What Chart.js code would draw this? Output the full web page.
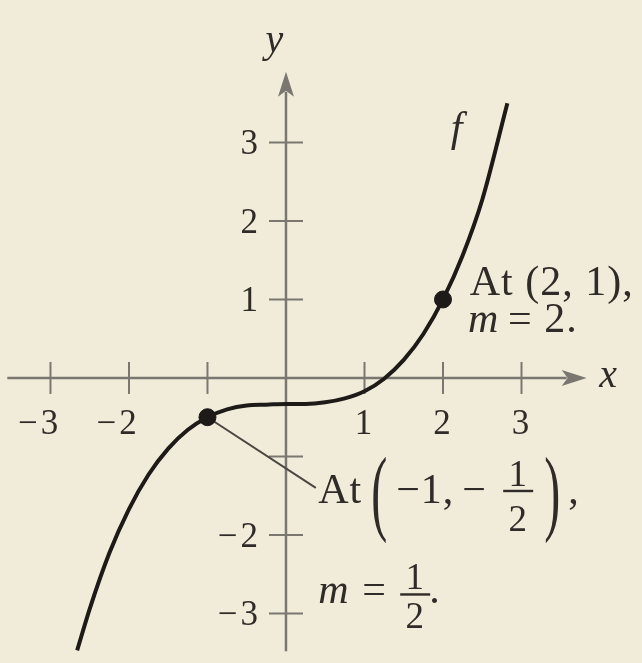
<!DOCTYPE html>
<html>
<head>
<meta charset="utf-8">
<script src="https://cdn.jsdelivr.net/npm/chart.js@4"></script>
<style>
  html, body { margin: 0; padding: 0; background: #f1ecda; }
  #wrap { width: 642px; height: 663px; }
</style>
</head>
<body>
<div id="wrap"><canvas id="graph" width="642" height="663"></canvas></div>
<script>
// curve f
const curveX = [-2.66, -2.5, -2.25, -2, -1.75, -1.5, -1.25, -1, -0.75, -0.5, -0.25, 0, 0.25, 0.5, 0.75, 1, 1.25, 1.5, 1.75, 2, 2.25, 2.5, 2.82];
const curveY = [-3.47, -2.94, -2.23, -1.67, -1.23, -0.9, -0.66, -0.5, -0.4, -0.35, -0.34, -0.33, -0.33, -0.31, -0.26, -0.17, -0.01, 0.23, 0.56, 1.0, 1.56, 2.27, 3.5];

// marked points
const markX = [-1, 2];
const markY = [-0.5, 1];

// ticks
const xTicks = [-3, -2, -1, 1, 2, 3];
const xTickLabels = ["−3", "−2", "", "1", "2", "3"];
const yTicks = [-3, -2, -1, 1, 2, 3];
const yTickLabels = ["−3", "−2", "", "1", "2", "3"];

const serif = '"Liberation Serif", "DejaVu Serif", serif';
const axisColor = "#7a7670";
const inkColor = "#2f2b28";

// draws "−3" style label: digit placed by align, minus in front of it
function tickLabel(ctx, s, x, y, align) {
    const digit = s.slice(-1);
    const dw = ctx.measureText(digit).width;
    const left = align === "center" ? x - dw / 2 : x - dw;
    ctx.textAlign = "left";
    ctx.fillText(digit, left, y);
    if (s.length > 1) {
        ctx.textAlign = "right";
        ctx.fillText("−", left - 3, y);
    }
}

const axesPlugin = {
    id: "axes",
    beforeDatasetsDraw(chart) {
        const ctx = chart.ctx;
        const sx = chart.scales.x, sy = chart.scales.y;
        const ox = sx.getPixelForValue(0), oy = sy.getPixelForValue(0);
        ctx.save();
        ctx.strokeStyle = axisColor;
        ctx.fillStyle = axisColor;
        ctx.lineWidth = 2.5;

        // x axis with arrow
        const xl = sx.getPixelForValue(-3.55), xr = sx.getPixelForValue(3.83);
        ctx.beginPath();
        ctx.moveTo(xl, oy);
        ctx.lineTo(xr - 20, oy);
        ctx.stroke();
        ctx.beginPath();
        ctx.moveTo(xr, oy);
        ctx.lineTo(xr - 25, oy - 8);
        ctx.lineTo(xr - 19, oy);
        ctx.lineTo(xr - 25, oy + 8);
        ctx.closePath();
        ctx.fill();

        // y axis with arrow
        const yb = sy.getPixelForValue(-3.48), yt = sy.getPixelForValue(3.9);
        ctx.beginPath();
        ctx.moveTo(ox, yb);
        ctx.lineTo(ox, yt + 20);
        ctx.stroke();
        ctx.beginPath();
        ctx.moveTo(ox, yt);
        ctx.lineTo(ox - 8, yt + 25);
        ctx.lineTo(ox, yt + 19);
        ctx.lineTo(ox + 8, yt + 25);
        ctx.closePath();
        ctx.fill();

        // ticks
        ctx.lineWidth = 2;
        xTicks.forEach(v => {
            const p = sx.getPixelForValue(v);
            ctx.beginPath();
            ctx.moveTo(p, oy - 16);
            ctx.lineTo(p, oy + 16);
            ctx.stroke();
        });
        yTicks.forEach(v => {
            const p = sy.getPixelForValue(v);
            ctx.beginPath();
            ctx.moveTo(ox - 17, p);
            ctx.lineTo(ox + 17, p);
            ctx.stroke();
        });

        // tick labels
        ctx.fillStyle = inkColor;
        ctx.font = "35px " + serif;
        ctx.textBaseline = "alphabetic";
        xTicks.forEach((v, i) => {
            if (xTickLabels[i]) tickLabel(ctx, xTickLabels[i], sx.getPixelForValue(v) - 1, oy + 56, "center");
        });
        yTicks.forEach((v, i) => {
            if (yTickLabels[i]) tickLabel(ctx, yTickLabels[i], ox - 28, sy.getPixelForValue(v) + 12, "right");
        });

        // leader line from (-1, -1/2) to its label
        ctx.strokeStyle = "#4a4641";
        ctx.lineWidth = 2;
        ctx.beginPath();
        ctx.moveTo(sx.getPixelForValue(markX[0]), sy.getPixelForValue(markY[0]));
        ctx.lineTo(sx.getPixelForValue(0.38), sy.getPixelForValue(-1.4));
        ctx.stroke();
        ctx.restore();
    }
};

function frac(ctx, cx, barY, num, den, gap) {
    ctx.save();
    ctx.font = "37px " + serif;
    ctx.textAlign = "center";
    ctx.fillText(num, cx, barY - 5);
    ctx.fillText(den, cx, barY + gap);
    ctx.fillRect(cx - 15, barY - 1, 30, 2.4);
    ctx.restore();
}

function bigParen(ctx, ch, x, baseY) {
    ctx.save();
    ctx.translate(x, baseY);
    ctx.scale(1, 2.0);
    ctx.font = "48px " + serif;
    ctx.textAlign = "left";
    ctx.fillText(ch, 0, 0);
    ctx.restore();
}

const labelPlugin = {
    id: "labels",
    afterDatasetsDraw(chart) {
        const ctx = chart.ctx;
        const sx = chart.scales.x, sy = chart.scales.y;
        const px = v => sx.getPixelForValue(v), py = v => sy.getPixelForValue(v);
        ctx.save();
        ctx.fillStyle = inkColor;
        ctx.textAlign = "left";
        ctx.textBaseline = "alphabetic";

        // axis names and curve name
        ctx.font = "italic 40px " + serif;
        ctx.fillText("x", px(3.99), py(-0.115));
        ctx.fillText("y", px(-0.26), py(4.15));
        ctx.font = "italic 42px " + serif;
        ctx.fillText("f", px(2.1), py(3.02));

        ctx.letterSpacing = "1px";
        // At (2, 1), m = 2.
        ctx.font = "42px " + serif;
        let x0 = px(2.34), b0 = py(1.057);
        ctx.fillText("At (2, 1),", x0, b0);
        x0 = px(2.32); b0 = py(0.586);
        ctx.font = "italic 42px " + serif;
        ctx.fillText("m", x0, b0);
        ctx.font = "42px " + serif;
        ctx.fillText("= 2.", x0 + 40, b0);

        // At (-1, -1/2), m = 1/2.
        x0 = px(0.41); b0 = py(-1.59);
        ctx.fillText("At", x0, b0);
        bigParen(ctx, "(", x0 + 53, b0 + 20);
        ctx.fillText("−1,", x0 + 78, b0);
        ctx.fillText("−", x0 + 144, b0);
        frac(ctx, x0 + 200, b0 - 12, "1", "2", 40);
        bigParen(ctx, ")", x0 + 226, b0 + 20);
        ctx.fillText(",", x0 + 250, b0);

        x0 = px(0.41); b0 = py(-2.87);
        ctx.font = "italic 42px " + serif;
        ctx.fillText("m", x0, b0);
        ctx.font = "42px " + serif;
        ctx.fillText("=", x0 + 44, b0);
        frac(ctx, x0 + 97, b0 - 9, "1", "2", 34);
        ctx.fillText(".", x0 + 111, b0);
        ctx.restore();
    }
};

new Chart(document.getElementById("graph").getContext("2d"), {
    type: "scatter",
    data: {
        datasets: [
            {
                label: "f",
                data: curveX.map((x, i) => ({ x: x, y: curveY[i] })),
                showLine: true,
                borderColor: "#1d1a17",
                borderWidth: 4,
                pointRadius: 0,
                cubicInterpolationMode: "monotone",
                order: 2
            },
            {
                label: "points",
                data: markX.map((x, i) => ({ x: x, y: markY[i] })),
                pointRadius: 8.5,
                pointBackgroundColor: "#1d1a17",
                pointBorderColor: "#1d1a17",
                order: 1
            }
        ]
    },
    options: {
        responsive: false,
        animation: false,
        layout: { padding: 0, autoPadding: false },
        plugins: { legend: { display: false }, tooltip: { enabled: false } },
        scales: {
            x: { type: "linear", display: false, min: -3.643, max: 4.535 },
            y: { type: "linear", display: false, min: -3.631, max: 4.815 }
        }
    },
    plugins: [axesPlugin, labelPlugin]
});
</script>
</body>
</html>
